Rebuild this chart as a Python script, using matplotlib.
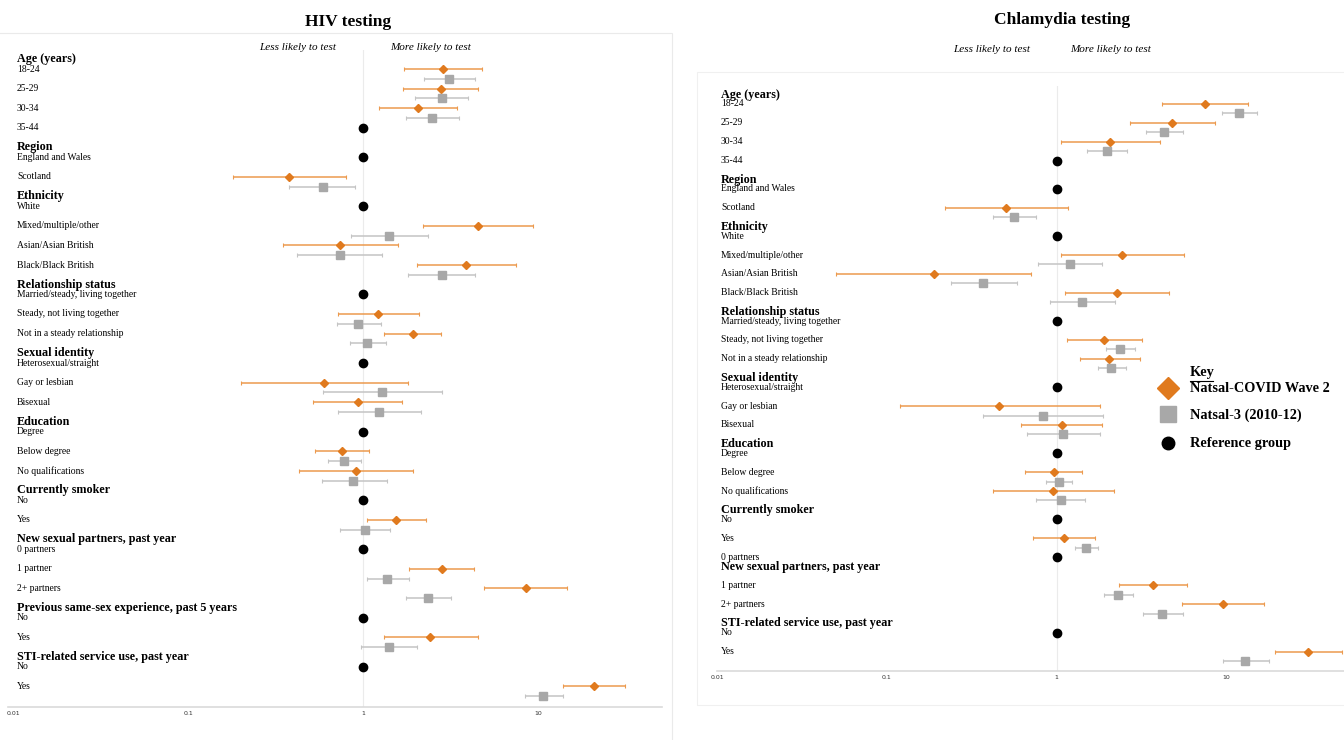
import matplotlib
matplotlib.use('Agg')
import matplotlib.pyplot as plt
import matplotlib.transforms as mtransforms
from matplotlib.patches import Rectangle
from matplotlib.lines import Line2D
import numpy as np

plt.rcParams['font.family'] = ['Liberation Serif', 'DejaVu Serif']

nan = np.nan
ORANGE = '#E07A1E'
ORANGE_CI = '#EC9A4E'
GREY = '#A8A8A8'
GREY_CI = '#C4C4C4'

# ---- groups and row labels ----
hiv_groups = ['Age (years)', 'Region', 'Ethnicity', 'Relationship status', 'Sexual identity',
              'Education', 'Currently smoker', 'New sexual partners, past year',
              'Previous same-sex experience, past 5 years', 'STI-related service use, past year']
hiv_items = [['18-24', '25-29', '30-34', '35-44'],
             ['England and Wales', 'Scotland'],
             ['White', 'Mixed/multiple/other', 'Asian/Asian British', 'Black/Black British'],
             ['Married/steady, living together', 'Steady, not living together', 'Not in a steady relationship'],
             ['Heterosexual/straight', 'Gay or lesbian', 'Bisexual'],
             ['Degree', 'Below degree', 'No qualifications'],
             ['No', 'Yes'],
             ['0 partners', '1 partner', '2+ partners'],
             ['No', 'Yes'],
             ['No', 'Yes']]

chl_groups = ['Age (years)', 'Region', 'Ethnicity', 'Relationship status', 'Sexual identity',
              'Education', 'Currently smoker', 'New sexual partners, past year',
              'STI-related service use, past year']
chl_items = [['18-24', '25-29', '30-34', '35-44'],
             ['England and Wales', 'Scotland'],
             ['White', 'Mixed/multiple/other', 'Asian/Asian British', 'Black/Black British'],
             ['Married/steady, living together', 'Steady, not living together', 'Not in a steady relationship'],
             ['Heterosexual/straight', 'Gay or lesbian', 'Bisexual'],
             ['Degree', 'Below degree', 'No qualifications'],
             ['No', 'Yes'],
             ['0 partners', '1 partner', '2+ partners'],
             ['No', 'Yes']]

# ---- odds ratios (nan = reference group) ----
hiv_covid    = [2.86, 2.78, 2.06, nan, nan, 0.38, nan, 4.51, 0.74, 3.89, nan, 1.22, 1.92, nan, 0.60, 0.93,
                nan, 0.76, 0.91, nan, 1.55, nan, 2.81, 8.49, nan, 2.42, nan, 20.9]
hiv_covid_lo = [1.72, 1.70, 1.23, nan, nan, 0.18, nan, 2.20, 0.35, 2.03, nan, 0.72, 1.32, nan, 0.20, 0.52,
                nan, 0.53, 0.43, nan, 1.06, nan, 1.82, 4.94, nan, 1.31, nan, 13.9]
hiv_covid_hi = [4.77, 4.51, 3.44, nan, nan, 0.80, nan, 9.30, 1.58, 7.48, nan, 2.09, 2.79, nan, 1.81, 1.66,
                nan, 1.08, 1.92, nan, 2.30, nan, 4.33, 14.7, nan, 4.51, nan, 31.4]
hiv_n3       = [3.11, 2.81, 2.48, nan, nan, 0.59, nan, 1.40, 0.74, 2.81, nan, 0.93, 1.06, nan, 1.29, 1.24,
                nan, 0.78, 0.88, nan, 1.02, nan, 1.37, 2.36, nan, 1.41, nan, 10.7]
hiv_n3_lo    = [2.22, 1.99, 1.75, nan, nan, 0.38, nan, 0.85, 0.42, 1.80, nan, 0.71, 0.84, nan, 0.59, 0.72,
                nan, 0.63, 0.58, nan, 0.74, nan, 1.06, 1.76, nan, 0.98, nan, 8.45]
hiv_n3_hi    = [4.38, 3.97, 3.55, nan, nan, 0.90, nan, 2.34, 1.29, 4.36, nan, 1.26, 1.35, nan, 2.81, 2.15,
                nan, 0.98, 1.37, nan, 1.42, nan, 1.84, 3.20, nan, 2.04, nan, 13.9]

chl_covid    = [7.45, 4.77, 2.06, nan, nan, 0.50, nan, 2.43, 0.19, 2.25, nan, 1.91, 2.04, nan, 0.46, 1.08,
                nan, 0.96, 0.95, nan, 1.10, nan, 3.70, 9.50, nan, 30.3]
chl_covid_lo = [4.16, 2.69, 1.06, nan, nan, 0.22, nan, 1.06, 0.050, 1.12, nan, 1.15, 1.37, nan, 0.12, 0.62,
                nan, 0.65, 0.42, nan, 0.72, nan, 2.32, 5.43, nan, 19.2]
chl_covid_hi = [13.3, 8.49, 4.04, nan, nan, 1.16, nan, 5.58, 0.71, 4.55, nan, 3.17, 3.08, nan, 1.79, 1.85,
                nan, 1.40, 2.17, nan, 1.69, nan, 5.87, 16.5, nan, 48.0]
chl_n3       = [11.9, 4.26, 1.98, nan, nan, 0.56, nan, 1.19, 0.37, 1.41, nan, 2.36, 2.09, nan, 0.83, 1.09,
                nan, 1.03, 1.06, nan, 1.49, nan, 2.28, 4.19, nan, 12.9]
chl_n3_lo    = [9.40, 3.34, 1.50, nan, nan, 0.42, nan, 0.78, 0.24, 0.91, nan, 1.94, 1.74, nan, 0.37, 0.67,
                nan, 0.86, 0.76, nan, 1.28, nan, 1.90, 3.21, nan, 9.55]
chl_n3_hi    = [15.2, 5.52, 2.60, nan, nan, 0.75, nan, 1.84, 0.58, 2.20, nan, 2.90, 2.54, nan, 1.86, 1.79,
                nan, 1.23, 1.47, nan, 1.75, nan, 2.80, 5.55, nan, 17.8]

tick_vals = [0.01, 0.1, 1, 10]
tick_labels = ['0.01', '0.1', '1', '10']

W, H = 1344, 740
fig = plt.figure(figsize=(W / 100, H / 100), dpi=100)


def fx(px):
    return px / W


def fy(py):
    return 1 - py / H


def layout(groups, items, swap=None):
    s = -1
    head_slots, item_slots = [], []
    for g, its in zip(groups, items):
        hs = s
        s += 1
        first = len(item_slots)
        for it in its:
            item_slots.append(s)
            s += 2
        if g == swap:
            # header printed under the reference label in the original
            item_slots[first] = hs
            hs = hs + 1
        head_slots.append(hs)
    return head_slots, item_slots


def panel(rect, ylim, xlim, groups, items, data, label_x, swap=None):
    ax = fig.add_axes(rect)
    ax.set_xscale('log')
    ax.set_xlim(*xlim)
    ax.set_ylim(*ylim)
    for sp in ['top', 'left', 'right']:
        ax.spines[sp].set_visible(False)
    ax.spines['bottom'].set_color('#DADADA')
    ax.spines['bottom'].set_linewidth(1.2)
    ax.set_yticks([])
    ax.set_xticks(tick_vals)
    ax.set_xticklabels(tick_labels, fontsize=4.5, family='DejaVu Sans', color='#333333')
    ax.xaxis.set_minor_locator(matplotlib.ticker.NullLocator())
    ax.tick_params(axis='x', length=0, pad=3)
    ax.axvline(1, color='#EBEBEB', lw=0.8, zorder=0)

    head_slots, item_slots = layout(groups, items, swap)
    tr = mtransforms.blended_transform_factory(fig.transFigure, ax.transData)
    for g, hs in zip(groups, head_slots):
        ax.text(fx(label_x), hs, g, transform=tr, fontsize=8.7, fontweight='bold',
                va='center', ha='left')
    labels = [it for its in items for it in its]
    cv, clo, chi, nv, nlo, nhi = data
    for i, (lab, s) in enumerate(zip(labels, item_slots)):
        ax.text(fx(label_x), s, lab, transform=tr, fontsize=6.9, va='center', ha='left')
        if np.isnan(cv[i]):
            ax.plot(1, s, 'o', color='black', ms=6, zorder=4)
            continue
        ax.errorbar(cv[i], s, xerr=[[cv[i] - clo[i]], [chi[i] - cv[i]]], fmt='none',
                    ecolor=ORANGE_CI, elinewidth=1.1, capsize=1.5, capthick=0.8, zorder=2)
        ax.plot(cv[i], s, 'D', color=ORANGE, ms=4, zorder=3)
        ax.errorbar(nv[i], s + 1, xerr=[[nv[i] - nlo[i]], [nhi[i] - nv[i]]], fmt='none',
                    ecolor=GREY_CI, elinewidth=1.1, capsize=1.5, capthick=0.8, zorder=2)
        ax.plot(nv[i], s + 1, 's', color=GREY, ms=5.5, zorder=3)
    return ax


# panel frames
fig.add_artist(Rectangle((fx(-5), fy(760)), fx(677), fy(33) - fy(760), transform=fig.transFigure,
                         fill=False, edgecolor='#EAEAEA', lw=0.8))
fig.add_artist(Rectangle((fx(697), fy(705)), fx(700), fy(72) - fy(705), transform=fig.transFigure,
                         fill=False, edgecolor='#F0F0F0', lw=0.8))

# HIV panel
panel([fx(8), fy(707), fx(662) - fx(8), fy(50) - fy(707)],
      ((707 - 69) / 9.8, (50 - 69) / 9.8), (0.00936, 51.1),
      hiv_groups, hiv_items,
      (hiv_covid, hiv_covid_lo, hiv_covid_hi, hiv_n3, hiv_n3_lo, hiv_n3_hi), 17)

# Chlamydia panel
panel([fx(717), fy(671), fx(1344) - fx(717), fy(86) - fy(671)],
      ((671 - 104) / 9.44, (86 - 104) / 9.44), (0.01, 49.1),
      chl_groups, chl_items,
      (chl_covid, chl_covid_lo, chl_covid_hi, chl_n3, chl_n3_lo, chl_n3_hi), 721,
      swap='New sexual partners, past year')

# titles and direction labels
fig.text(fx(348), fy(22), 'HIV testing', fontsize=12.5, fontweight='bold', ha='center', va='center')
fig.text(fx(1062), fy(20), 'Chlamydia testing', fontsize=12.5, fontweight='bold', ha='center', va='center')
fig.text(fx(298), fy(47), 'Less likely to test', fontsize=8, style='italic', ha='center', va='center')
fig.text(fx(431), fy(47), 'More likely to test', fontsize=8, style='italic', ha='center', va='center')
fig.text(fx(992), fy(49), 'Less likely to test', fontsize=8, style='italic', ha='center', va='center')
fig.text(fx(1111), fy(49), 'More likely to test', fontsize=8, style='italic', ha='center', va='center')

# key
fig.text(fx(1190), fy(373), 'Key', fontsize=10.3, fontweight='bold', ha='left', va='center')
fig.add_artist(Line2D([fx(1190), fx(1213)], [fy(380.5), fy(380.5)], color='black', lw=0.8,
                      transform=fig.transFigure))
key_labels = ['Natsal-COVID Wave 2', 'Natsal-3 (2010-12)', 'Reference group']
key_markers = [('D', ORANGE, 11, 388), ('s', GREY, 11, 414), ('o', 'black', 9, 443)]
for lab, (m, c, size, py) in zip(key_labels, key_markers):
    fig.add_artist(Line2D([fx(1168)], [fy(py)], marker=m, color=c, ms=size, ls='none',
                          transform=fig.transFigure))
for lab, py in zip(key_labels, [388, 415, 444]):
    fig.text(fx(1190), fy(py), lab, fontsize=10.3, fontweight='bold', ha='left', va='center')

fig.savefig('out.png', dpi=100)
